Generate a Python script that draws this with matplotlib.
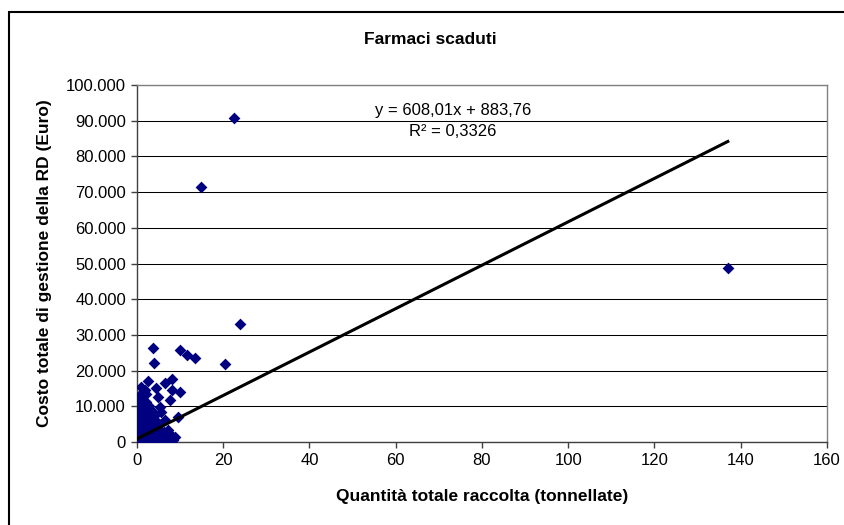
import matplotlib

matplotlib.use("Agg")

import matplotlib.pyplot as plt
import numpy as np
from matplotlib.patches import Rectangle
from matplotlib.ticker import FuncFormatter, MultipleLocator

plt.rcParams["font.family"] = ["Liberation Sans", "DejaVu Sans"]

# Quantità totale raccolta (t) / Costo totale di gestione (Euro) — scattered points
spread_x = [137.0, 22.5, 14.8, 23.9, 20.4, 10.0, 11.6, 13.4, 3.7, 4.0,
            2.5, 6.5, 8.1, 1.9, 4.3, 8.1, 10.0, 7.7, 4.9, 5.3,
            9.5, 6.5, 7.2, 8.0, 5.6, 1.0, 2.0, 0.5]
spread_y = [48700, 90800, 71500, 33000, 21800, 25800, 24400, 23500, 26300, 22100,
            17000, 16500, 17600, 14600, 15100, 14600, 14000, 11800, 12600, 9800,
            7000, 6200, 3400, 2000, 8500, 15500, 13500, 13000]

# dense group near the origin
cluster_x = [0.4, 0.9, 1.5, 2.2, 0.6, 2.8, 1.2, 1.4, 0.1, 0.3,
             0.2, 0.8, 1.4, 2.0, 2.6, 3.2, 3.8, 0.5, 1.1, 1.8, 2.4, 3.0, 4.2,
             0.1, 0.6, 1.0, 1.5, 2.1, 2.7, 3.3, 3.9, 4.5, 0.3, 0.9, 1.3, 1.9,
             2.5, 3.1, 3.7, 4.8, 5.2,
             0.1, 0.4, 0.7, 1.0, 1.3, 1.7, 2.0, 2.4, 2.8, 3.3, 3.8, 4.4, 5.0,
             5.6, 6.2, 0.2, 0.6, 1.1, 1.5, 2.2, 3.0, 4.0, 4.8, 6.8,
             0.05, 0.1, 0.15, 0.2, 0.3, 0.35, 0.45, 0.5, 0.6, 0.7, 0.8, 0.9,
             1.0, 1.1, 1.3, 1.4, 1.6, 1.8, 2.0, 2.2, 2.5, 2.7, 3.0, 3.3, 3.6,
             4.0, 4.3, 4.7, 5.1, 5.5, 6.0, 6.6, 7.2, 7.8, 0.02, 0.08, 0.25,
             0.12, 8.8, 8.3]
cluster_y = [12000, 11500, 10800, 11200, 10300, 10000, 12400, 14000, 11000, 8500,
             9500, 9000, 8700, 9300, 8400, 9100, 8000, 7800, 7300, 7700, 7100, 7400, 7600,
             6800, 6300, 6600, 5900, 6200, 5600, 6100, 5300, 5800, 5200, 4800, 5400, 4500,
             4900, 4300, 4700, 4400, 5000,
             3800, 3300, 3700, 3000, 3500, 2800, 3400, 2600, 3200, 2400, 3100, 2700, 3300,
             2500, 2900, 2300, 2100, 2400, 2000, 2200, 2000, 2100, 2300, 2200,
             200, 900, 500, 1500, 300, 1100, 700, 1800, 400, 1300, 100, 900,
             1600, 500, 1200, 200, 800, 1500, 400, 1100, 700, 1800, 300, 1200, 600,
             1500, 400, 1000, 1700, 600, 1200, 400, 900, 1500, 50, 600, 50,
             1200, 1400, 600]

slope = 608.01
intercept = 883.76
r_squared = "0,3326"

title = "Farmaci scaduti"
x_label = "Quantità totale raccolta (tonnellate)"
y_label = "Costo totale di gestione della RD (Euro)"

NAVY = "#000080"
W, H = 845, 525


def thousands(v, _pos):
    return f"{int(round(v)):,}".replace(",", ".")


def main() -> None:
    x = np.array(spread_x + cluster_x)
    y = np.array(spread_y + cluster_y)

    fig = plt.figure(figsize=(W / 100, H / 100), dpi=100, facecolor="white")
    ax = fig.add_axes([137 / W, 1 - 442 / H, 690 / W, 357 / H])

    ax.scatter(x, y, marker="D", s=36, color=NAVY, linewidths=0, zorder=3)

    xs = np.array([x.min(), x.max()])
    ax.plot(xs, slope * xs + intercept, color="black", lw=2.2, zorder=4)

    ax.set_xlim(0, 160)
    ax.set_ylim(0, 100000)
    ax.xaxis.set_major_locator(MultipleLocator(20))
    ax.yaxis.set_major_locator(MultipleLocator(10000))
    ax.yaxis.set_major_formatter(FuncFormatter(thousands))

    ax.grid(axis="y", color="black", lw=0.75, zorder=1)
    ax.set_axisbelow(True)
    for side in ("top", "right"):
        ax.spines[side].set_color("#808080")
        ax.spines[side].set_linewidth(1.0)
    for side in ("left", "bottom"):
        ax.spines[side].set_color("#404040")
        ax.spines[side].set_linewidth(1.0)
    ax.tick_params(direction="out", length=4, width=1, color="#404040",
                   labelsize=12, pad=4)

    ax.set_xlabel(x_label, fontsize=12.5, fontweight="bold", labelpad=15)
    ax.set_ylabel(y_label, fontsize=12.5, fontweight="bold", labelpad=10)
    fig.text(430 / W, 1 - 40 / H, title, fontsize=12.5, fontweight="bold",
             ha="center", va="center")

    fig.text(453 / W, 1 - 110 / H,
             f"y = {slope:.2f}x + {intercept:.2f}".replace(".", ","),
             fontsize=12, ha="center", va="center")
    fig.text(453 / W, 1 - 131 / H, f"R² = {r_squared}",
             fontsize=12, ha="center", va="center")

    fig.add_artist(Rectangle((9 / W, -0.1), 1.1, 1 - 12 / H + 0.1,
                             transform=fig.transFigure, fill=False,
                             lw=1.5, ec="black"))

    fig.savefig("out.png", dpi=100, facecolor="white")
    plt.close(fig)


if __name__ == "__main__":
    main()
